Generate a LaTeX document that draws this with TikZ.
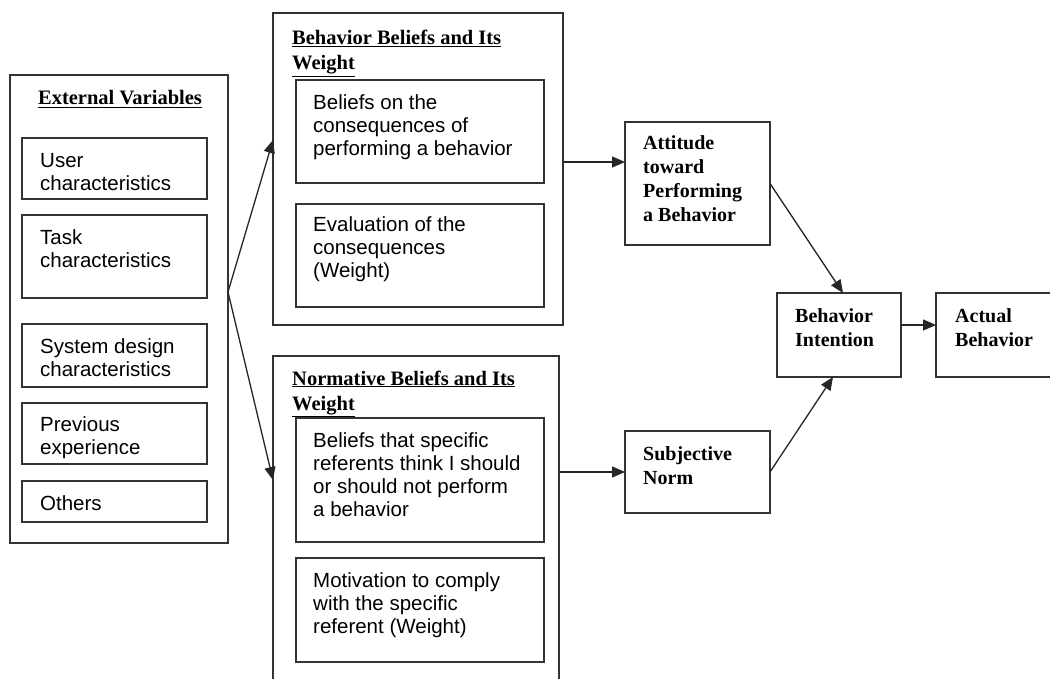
\documentclass[tikz,border=0pt]{standalone}
\usepackage{fontspec}
\setmainfont{Liberation Serif}
\newfontfamily\arialf{Liberation Sans}
\usetikzlibrary{arrows.meta,calc}
\newcommand{\ml}[1]{\begin{tabular}[t]{@{}l@{}}#1\end{tabular}}
\tikzset{
 box/.style={draw=black!80, line width=1.4pt, rectangle, inner sep=0pt, outer sep=0pt, anchor=north west},
 ttl/.style={inner sep=0pt, anchor=base west, font=\fontsize{20.5}{25}\selectfont\bfseries},
 body/.style={inner sep=0pt, anchor=base west, font=\arialf\fontsize{20.5}{23}\selectfont},
 rt/.style={inner sep=0pt, anchor=base west, font=\fontsize{20}{24}\selectfont\bfseries},
 arr/.style={draw=black!85, line width=1.3pt, -{Triangle[length=13pt,width=11pt]}},
}
\begin{document}
\begin{tikzpicture}[x=1pt,y=-1pt]
\useasboundingbox (0,0) rectangle (1050,679);
\fill[white] (0,0) rectangle (1050,679);
\clip (0,0) rectangle (1050,679);

% External variables
\node[box, minimum width=218pt, minimum height=468pt] (ext) at (10,75) {};
\node[inner sep=0pt, anchor=base, font=\fontsize{20.5}{25}\selectfont\bfseries] (extT) at (120,105) {\underline{External Variables}};
\node[box, minimum width=185pt, minimum height=61pt] (user) at (22,138) {};
\node[body] (userT) at (40,168) {\ml{User\\characteristics}};
\node[box, minimum width=185pt, minimum height=83pt] (task) at (22,215) {};
\node[body] (taskT) at (40,245) {\ml{Task\\characteristics}};
\node[box, minimum width=185pt, minimum height=63pt] (sys) at (22,324) {};
\node[body] (sysT) at (40,353) {\ml{System design\\characteristics}};
\node[box, minimum width=185pt, minimum height=61pt] (prev) at (22,403) {};
\node[body] (prevT) at (40,431) {\ml{Previous\\experience}};
\node[box, minimum width=185pt, minimum height=41pt] (oth) at (22,481) {};
\node[body] (othT) at (40,510) {Others};

% Behavior beliefs
\node[box, minimum width=290pt, minimum height=312pt] (bb) at (273,13) {};
\node[ttl] (bbT) at (292,45) {\ml{\underline{Behavior Beliefs and Its}\\\underline{Weight}}};
\node[box, minimum width=248pt, minimum height=103pt] (bb1) at (296,80) {};
\node[body] (bb1T) at (313,110) {\ml{Beliefs on the\\consequences of\\performing a behavior}};
\node[box, minimum width=248pt, minimum height=103pt] (bb2) at (296,204) {};
\node[body] (bb2T) at (313,232) {\ml{Evaluation of the\\consequences\\(Weight)}};

% Normative beliefs
\node[box, minimum width=286pt, minimum height=360pt] (nb) at (273,356) {};
\node[ttl] (nbT) at (292,385) {\ml{\underline{Normative Beliefs and Its}\\\underline{Weight}}};
\node[box, minimum width=248pt, minimum height=124pt] (nb1) at (296,418) {};
\node[body] (nb1T) at (313,447) {\ml{Beliefs that specific\\referents think I should\\or should not perform\\a behavior}};
\node[box, minimum width=248pt, minimum height=104pt] (nb2) at (296,558) {};
\node[body] (nb2T) at (313,587) {\ml{Motivation to comply\\with the specific\\referent (Weight)}};

% Right side
\node[box, minimum width=145pt, minimum height=123pt] (att) at (625,122) {};
\node[rt] (attT) at (643,150) {\ml{Attitude\\toward\\Performing\\a Behavior}};
\node[box, minimum width=145pt, minimum height=82pt] (sn) at (625,431) {};
\node[rt] (snT) at (643,460) {\ml{Subjective\\Norm}};
\node[box, minimum width=124pt, minimum height=84pt] (bi) at (777,293) {};
\node[rt] (biT) at (795,323) {\ml{Behavior\\Intention}};
\node[box, minimum width=130pt, minimum height=84pt] (ab) at (936,293) {};
\node[rt] (abT) at (955,323) {\ml{Actual\\Behavior}};

% Connectors
\coordinate (fan) at ($(ext.north east)+(0,217)$);
\draw[arr] (fan) -- ($(bb.north west)+(0,127)$);
\draw[arr] (fan) -- ($(nb.north west)+(0,124)$);
\coordinate (bbout) at ($(bb.north east)+(0,149)$);
\draw[arr] (bbout) -- (bbout -| att.west);
\draw[arr] (nb.east |- sn.west) -- (sn.west);
\draw[arr] (att.east) -- ([xshift=4pt]bi.north);
\draw[arr] (sn.east) -- ([xshift=-6pt]bi.south);
\draw[arr] ([yshift=10pt]bi.east) -- ([yshift=10pt]bi.east -| ab.west);
\end{tikzpicture}
\end{document}
